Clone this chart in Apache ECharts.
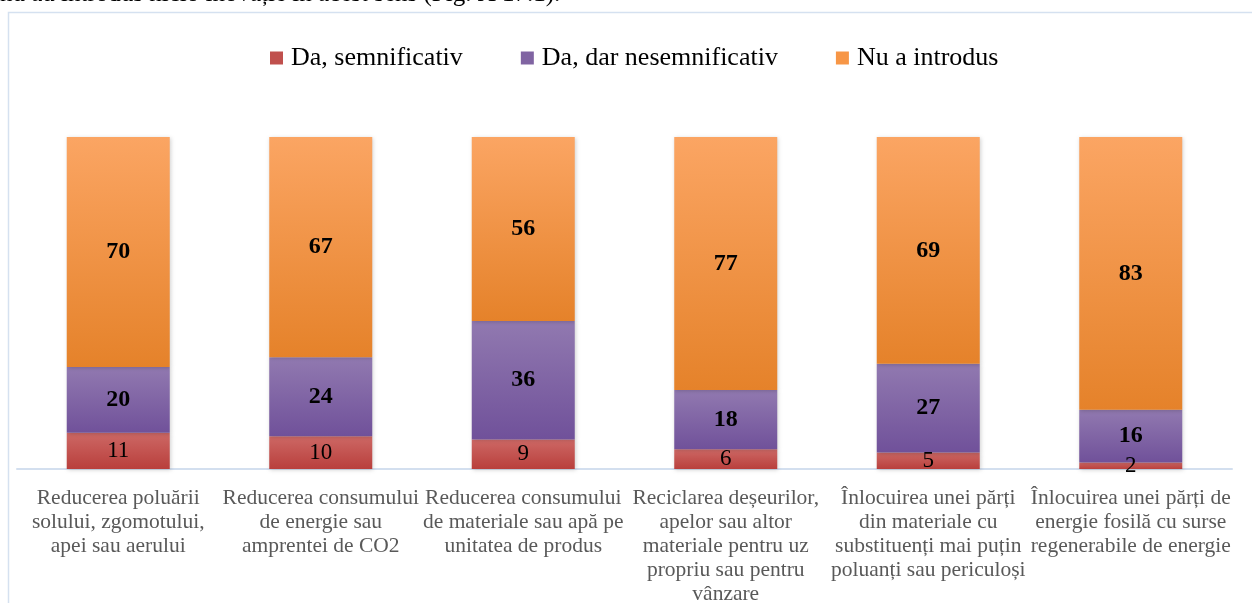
<!DOCTYPE html>
<html><head><meta charset="utf-8">
<script src="https://cdn.jsdelivr.net/npm/echarts@6/dist/echarts.min.js"></script>
<style>html,body{margin:0;padding:0;background:#fff}#c{width:1252px;height:603px}</style>
</head><body><div id="c"></div>
<script>
const categories = [
  "Reducerea poluării\nsolului, zgomotului,\napei sau aerului",
  "Reducerea consumului\nde energie sau\namprentei de CO2",
  "Reducerea consumului\nde materiale sau apă pe\nunitatea de produs",
  "Reciclarea deșeurilor,\napelor sau altor\nmateriale pentru uz\npropriu sau pentru\nvânzare",
  "Înlocuirea unei părți\ndin materiale cu\nsubstituenți mai puțin\npoluanți sau periculoși",
  "Înlocuirea unei părți de\nenergie fosilă cu surse\nregenerabile de energie"
];
const seriesNames = ["Da, semnificativ", "Da, dar nesemnificativ", "Nu a introdus"];
const daSemnificativ = [11, 10, 9, 6, 5, 2];
const daNesemnificativ = [20, 24, 36, 18, 27, 16];
const nuIntrodus = [70, 67, 56, 77, 69, 83];
const topText = "nu au introdus nicio inovație în acest sens (Fig. A 17.1).";

const FONT = "'Liberation Serif', 'Times New Roman', serif";
function grad(top, bottom) {
  return {type: 'linear', x: 0, y: 0, x2: 0, y2: 1,
    colorStops: [{offset: 0, color: top}, {offset: 1, color: bottom}]};
}
const fills = [grad('#cd6865', '#b93f3c'), grad('#9179b0', '#70519a'), grad('#fba563', '#e5822a')];
const legendColors = ['#c0504d', '#8064a2', '#f79646'];
const datasets = [daSemnificativ, daNesemnificativ, nuIntrodus];

const chart = echarts.init(document.getElementById('c'), null, {renderer: 'canvas'});
chart.setOption({
  animation: false,
  backgroundColor: '#fff',
  graphic: [
    {type: 'rect', shape: {x: 8.5, y: 12.5, width: 1250, height: 640},
     style: {fill: 'none', stroke: '#d5e1f0', lineWidth: 1.5}, silent: true, z: 0},
    {type: 'text', left: 0, top: -18,
     style: {text: topText, font: '25px ' + FONT, fill: '#000'}, z: 10}
  ],
  legend: {
    top: 40, left: 265,
    itemWidth: 13, itemHeight: 13, itemGap: 58,
    icon: 'rect',
    textStyle: {fontFamily: FONT, fontSize: 26, color: '#000', padding: [0, 0, 0, 3]},
    data: seriesNames.map((n, i) => ({name: n, itemStyle: {color: legendColors[i]}}))
  },
  grid: {left: 17, right: 20, top: 137, bottom: 134, containLabel: false, outerBoundsMode: 'none'},
  xAxis: {
    type: 'category', data: categories,
    axisLine: {show: true, lineStyle: {color: '#d3dfef', width: 2}},
    axisTick: {show: false},
    axisLabel: {interval: 0, margin: 17, fontFamily: FONT, fontSize: 21.5, lineHeight: 24,
      color: '#595959', align: 'center', verticalAlign: 'top'}
  },
  yAxis: {type: 'value', min: 0, max: 101, show: false, splitLine: {show: false}},
  series: datasets.map((d, i) => ({
    name: seriesNames[i], type: 'bar', stack: 'total', barWidth: 103,
    data: d,
    itemStyle: {color: fills[i], shadowColor: 'rgba(0,0,0,0.18)', shadowBlur: 4, shadowOffsetX: 1, shadowOffsetY: 1},
    label: {show: true, position: 'inside', fontFamily: FONT, fontSize: i === 0 ? 23 : 24,
      fontWeight: i === 0 ? 'normal' : 'bold', color: '#000'},
    emphasis: {disabled: true}
  }))
});
</script></body></html>
